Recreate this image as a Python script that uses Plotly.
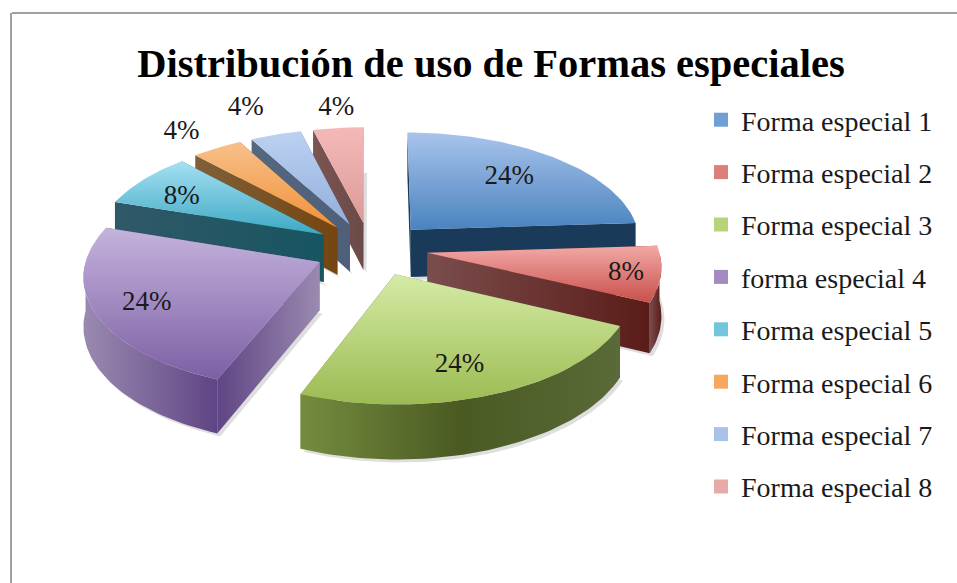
import math
import plotly.graph_objects as go

# ---------- data ----------
categories = ["Forma especial 1", "Forma especial 2", "Forma especial 3", "forma especial 4",
              "Forma especial 5", "Forma especial 6", "Forma especial 7", "Forma especial 8"]
shares = [24, 8, 24, 24, 8, 4, 4, 4]
title_text = "Distribución de uso de Formas especiales"

# ---------- style ----------
top_light = ["#a9c4ec", "#f2a9a6", "#d4eba6", "#c4b3dc", "#a6e0f2", "#f8c08a", "#bcd2f2", "#f4b9b7"]
top_dark = ["#4a83bf", "#c94f4a", "#9cbb52", "#7d5fa5", "#3ca9c4", "#f0913a", "#93aedb", "#dc9a98"]
wall_a = ["#1a3a5a", "#7a4d4d", "#758c3e", "#9a8ab0", "#305868", "#80603a", "#55687f", "#7a5552"]
wall_b = ["#1a3a5a", "#5a1c18", "#4a5a22", "#5f4584", "#175560", "#754510", "#4f5f7a", "#6b4a48"]
wall_far = [None, None, "#5a6a38", None, None, None, None, None]
radial_flip = [False, False, False, True, False, False, False, False]
legend_swatch = ["#6f9fd4", "#dc7f7b", "#b8d37a", "#a48ac0", "#72c6dc", "#f6a860", "#a9c2e8", "#e8aaa8"]
explode = [0.23, 0.23, 0.23, 0.29, 0.23, 0.23, 0.23, 0.23]
nudge_x = [0, 0, 0, 6, -7, -7, -6, -5]
nudge_y = [0, 0, 2, 0, 0, 0, 0, 0]
label_r = [0.70, 0.84, 0.80, 0.76, 0.82, 1.25, 1.30, 1.23]
label_dx = [-3, 3, -13, 2, 0, -15, -16, -2]
label_dy = [-1, 3, -1, 3, 8, 2, -2, 0]
draw_order = [7, 6, 5, 4, 0, 3, 1, 2]

CX, CY, RX, RY, P, DEPTH = 375, 248, 231, 111, 0.105, 48
W, H = 957, 583
offset = [0, 0]


def project(X, Y, z=0.0):
    w = 1 + P * Y
    return CX + RX * X / w + offset[0], CY + (-RY * Y + z) / w + offset[1]


def wedge_point(i, angle, r=1.0):
    mid = mids[i]
    ax = explode[i] * math.sin(mid)
    ay = explode[i] * math.cos(mid)
    return ax + r * math.sin(angle), ay + r * math.cos(angle)


total = sum(shares)
starts, ends, mids = [], [], []
acc = 0
for s in shares:
    starts.append(2 * math.pi * acc / total)
    acc += s
    ends.append(2 * math.pi * acc / total)
    mids.append((starts[-1] + ends[-1]) / 2)


def poly(xs, ys, grad_type, stops, start, stop):
    scale = [[k / (len(stops) - 1), c] for k, c in enumerate(stops)]
    return go.Scatter(
        x=xs + xs[:1], y=ys + ys[:1], mode="lines", line=dict(width=0), fill="toself",
        fillgradient=dict(type=grad_type, colorscale=scale, start=start, stop=stop),
        hoverinfo="skip", showlegend=False)


def quad(p, q):
    """wall below the top-edge points p -> q"""
    xs, ys = [], []
    for (X, Y) in [p, q]:
        x, y = project(X, Y)
        xs.append(x); ys.append(y)
    for (X, Y) in [q, p]:
        x, y = project(X, Y, DEPTH)
        xs.append(x); ys.append(y)
    return xs, ys


fig = go.Figure()
for i in draw_order:
    offset[0], offset[1] = nudge_x[i], nudge_y[i]
    a0, a1 = starts[i], ends[i]
    n = max(6, int((a1 - a0) * 40))
    angles = [a0 + (a1 - a0) * k / n for k in range(n + 1)]
    apex = wedge_point(i, 0, 0)
    p0 = wedge_point(i, a0)
    p1 = wedge_point(i, a1)

    # soft ground shadow
    sx, sy = [], []
    for a in angles:
        x, y = project(*wedge_point(i, a), DEPTH)
        sx.append(x + 3); sy.append(y + 3)
    x, y = project(*apex, DEPTH)
    sx.append(x + 3); sy.append(y + 3)
    fig.add_trace(go.Scatter(x=sx + sx[:1], y=sy + sy[:1], mode="lines", line=dict(width=0),
                             fill="toself", fillcolor="rgba(0,0,0,0.13)",
                             hoverinfo="skip", showlegend=False))

    # radial walls, back one first
    walls = sorted([(apex, p0), (apex, p1)], key=lambda e: -(e[1][1]))
    for e in walls:
        xs, ys = quad(*e)
        stops = [wall_b[i], wall_a[i]] if radial_flip[i] else [wall_a[i], wall_b[i]]
        fig.add_trace(poly(xs, ys, "horizontal", stops, min(xs), max(xs)))

    # outer wall, only the part that faces the viewer
    b0, b1 = max(a0, math.pi / 2), min(a1, 3 * math.pi / 2)
    if b1 > b0:
        m = max(6, int((b1 - b0) * 40))
        arc = [wedge_point(i, b0 + (b1 - b0) * k / m) for k in range(m + 1)]
        up = [project(*pt) for pt in arc]
        lo = [project(*pt, DEPTH) for pt in reversed(arc)]
        xs = [u[0] for u in up] + [l[0] for l in lo]
        ys = [u[1] for u in up] + [l[1] for l in lo]
        stops = [wall_a[i], wall_b[i]] + ([wall_far[i]] if wall_far[i] else [])
        fig.add_trace(poly(xs, ys, "horizontal", stops, min(xs), max(xs)))

    # top face
    pts = [project(*apex)] + [project(*wedge_point(i, a)) for a in angles]
    xs = [p[0] for p in pts]
    ys = [p[1] for p in pts]
    fig.add_trace(poly(xs, ys, "vertical", [top_light[i], top_dark[i]], min(ys), max(ys)))

# percentage labels
offset[0], offset[1] = 0, 0
lx, ly, lt = [], [], []
for i in range(len(shares)):
    x, y = project(*wedge_point(i, mids[i], label_r[i]))
    lx.append(x + label_dx[i]); ly.append(y + label_dy[i])
    lt.append(f"{round(100 * shares[i] / total)}%")
fig.add_trace(go.Scatter(x=lx, y=ly, mode="text", text=lt, textposition="middle center",
                         textfont=dict(family="Liberation Serif", size=27, color="#1a1a1a"),
                         hoverinfo="skip", showlegend=False))

# legend entries
for i, name in enumerate(categories):
    fig.add_trace(go.Scatter(x=[None], y=[None], mode="markers", name=name, legendgroup=name,
                             marker=dict(symbol="square", size=14, color=legend_swatch[i])))

fig.update_layout(
    width=W, height=H, margin=dict(l=0, r=0, t=0, b=0),
    paper_bgcolor="white", plot_bgcolor="white",
    title=dict(text=f"<b>{title_text}</b>", x=491 / W, xanchor="center", y=1 - 63 / H, yanchor="middle",
               font=dict(family="Liberation Serif", size=40.5, color="black")),
    xaxis=dict(visible=False, range=[0, W], domain=[0, 1], fixedrange=True),
    yaxis=dict(visible=False, range=[H, 0], domain=[0, 1], fixedrange=True),
    legend=dict(x=701 / W, xanchor="left", y=1 - 95 / H, yanchor="top", tracegroupgap=13,
                itemwidth=30, bgcolor="rgba(0,0,0,0)",
                font=dict(family="Liberation Serif", size=28, color="#1a1a1a")),
    shapes=[
        dict(type="line", xref="paper", yref="paper", x0=12 / W, x1=1, y0=1 - 13 / H, y1=1 - 13 / H,
             line=dict(color="#a0a0a0", width=2)),
        dict(type="line", xref="paper", yref="paper", x0=11 / W, x1=11 / W, y0=1 - 13 / H, y1=0,
             line=dict(color="#a0a0a0", width=2)),
    ],
)

fig.write_html("out.html", config={"displayModeBar": False},
               post_script="document.body.style.margin='0';document.body.style.overflow='hidden';")
